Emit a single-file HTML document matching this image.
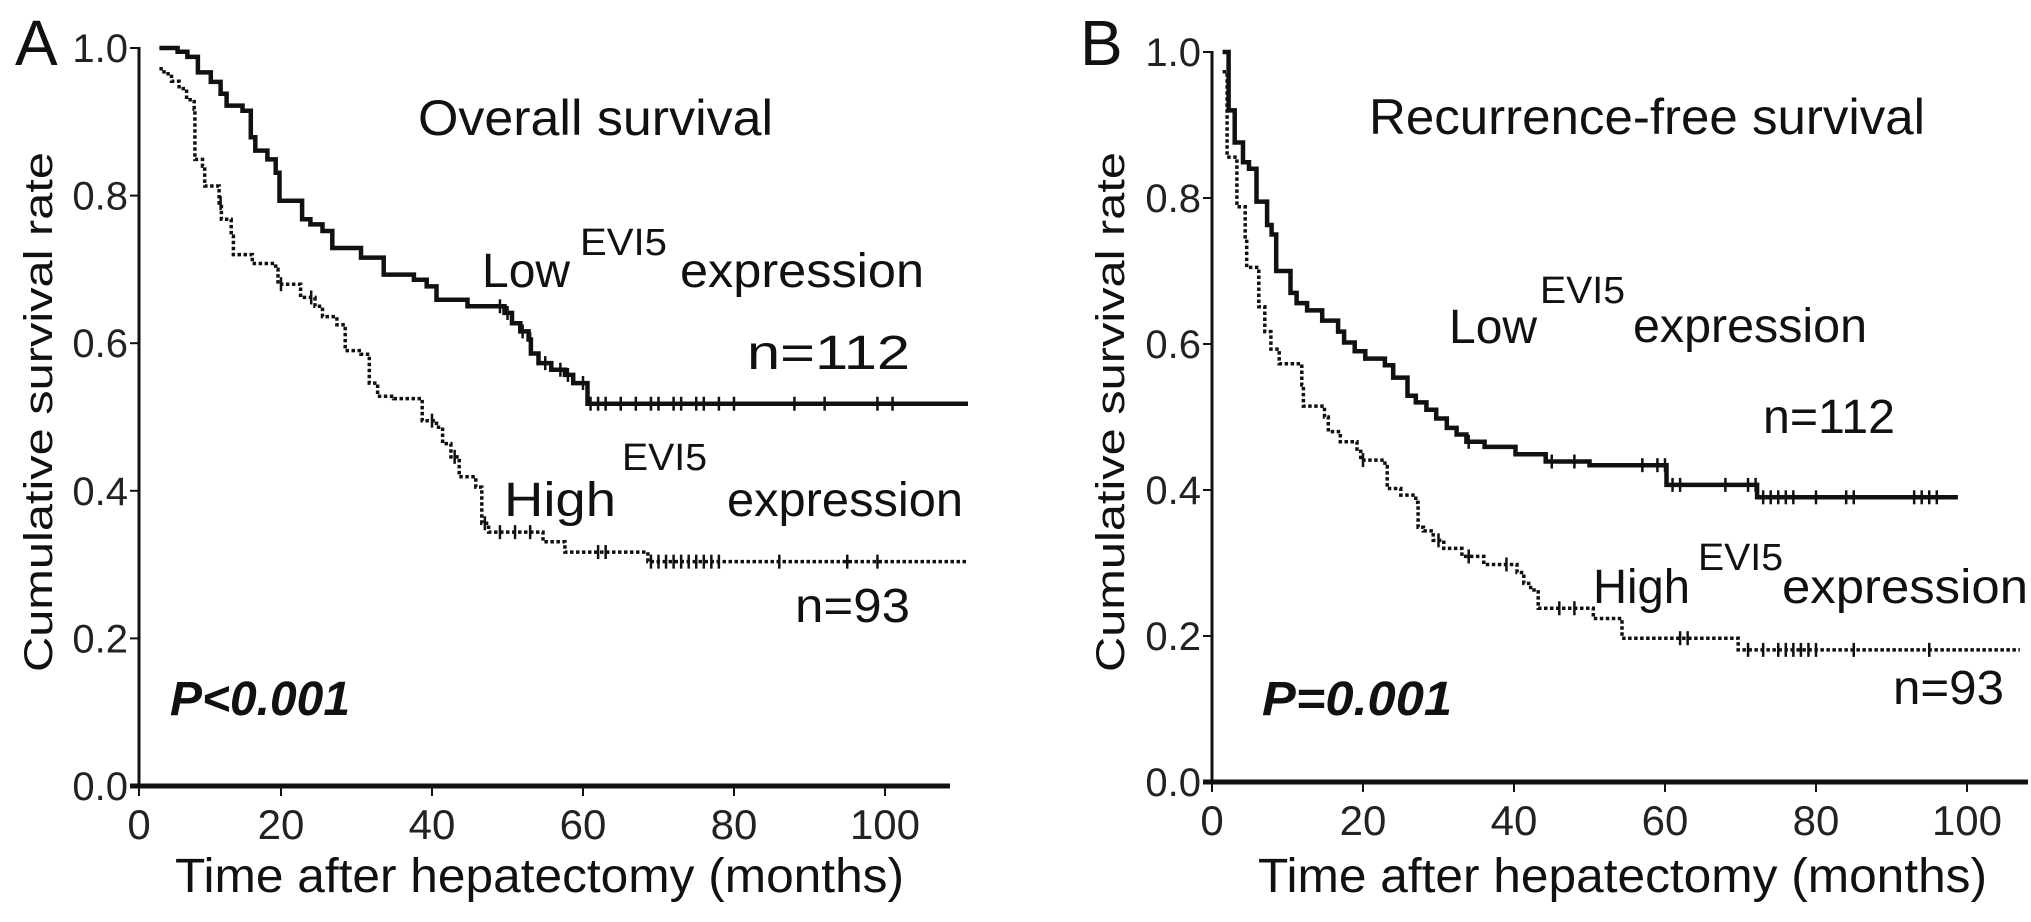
<!DOCTYPE html>
<html><head><meta charset="utf-8"><style>
html,body{margin:0;padding:0;background:#fff;}
svg{display:block;font-family:"Liberation Sans",Arial,sans-serif;}
</style></head><body>
<svg id="fig" width="2031" height="922" viewBox="0 0 2031 922" xmlns="http://www.w3.org/2000/svg">
<g id="panelA"></g>
<g id="panelB"></g>
</svg>
<script>
const xTicks=[0,20,40,60,80,100];
const yTicks=[0,0.2,0.4,0.6,0.8,1.0];
const yTickLabels=["0.0","0.2","0.4","0.6","0.8","1.0"];

const aLowTimes=[3.9,6.3,7.6,9.0,10.7,12.0,12.8,14.9,16.0,16.6,18.2,19.3,19.8,22.8,23.9,25.5,26.8,30.6,33.6,37.6,39.3,40.6,44.7,49.6,50.6,51.7,52.8,53.1,54.1,55.8,57.6,58.7,60.6];
const aLowSurv=[1.0,0.995,0.988,0.967,0.954,0.938,0.922,0.915,0.879,0.861,0.849,0.831,0.793,0.768,0.761,0.752,0.729,0.716,0.693,0.686,0.677,0.659,0.650,0.641,0.627,0.616,0.605,0.586,0.573,0.564,0.557,0.546,0.518];
const aLowEnd=111;
const aLowCensor=[49,50,52,53,55,57,58,60,61,62,63,65,67,69,70,72,73,75,76,78,80,88,92,99,101];

const aHighTimes=[3.9,4.5,5.5,6.5,7.5,8.5,8.6,9.6,9.9,11.8,12.1,13.4,13.7,16.2,19.3,19.6,22.6,24.5,25.5,27.4,28.5,30.6,31.7,32.8,34.9,38.7,40.6,41.4,42.5,43.6,45.8,46.6,47.5,54.7,57.6,68.6];
const aHighSurv=[0.972,0.965,0.955,0.945,0.930,0.917,0.849,0.840,0.813,0.790,0.768,0.745,0.720,0.708,0.700,0.680,0.662,0.650,0.636,0.625,0.590,0.585,0.546,0.528,0.525,0.495,0.486,0.464,0.446,0.419,0.405,0.356,0.344,0.331,0.317,0.304];
const aHighEnd=111;
const aHighCensor=[12,20,24,40,43,47,49,51,53,62,63,69,70,71,72,73,74,75,76,77,78,86,95,99];

const bLowTimes=[1.4,2.2,3.0,4.1,4.9,5.9,7.3,7.9,8.5,10.4,11.2,12.6,14.6,16.7,17.5,18.9,20.3,22.9,24.0,25.9,27.0,28.4,29.7,31.1,32.4,33.7,36.1,40.2,44.2,50.0,60.2,72.2];
const bLowSurv=[1.0,0.92,0.876,0.849,0.84,0.795,0.763,0.75,0.70,0.67,0.656,0.646,0.632,0.617,0.602,0.59,0.58,0.571,0.554,0.529,0.52,0.51,0.498,0.485,0.476,0.466,0.459,0.449,0.439,0.434,0.407,0.390];
const bLowEnd=98.8;
const bLowCensor=[34,45,48,57,59,60,61,62,68,71,72,73,74,75,76,77,80,84,85,93,94,95,96];

const bHighTimes=[1.4,2.0,3.3,4.4,4.6,6.2,7.0,7.8,8.9,11.9,12.1,14.9,15.4,17.0,19.2,19.7,22.9,23.2,25.0,27.0,27.3,28.0,29.3,30.7,33.1,36.0,40.4,41.3,42.2,43.2,50.5,54.3,69.7];
const bHighSurv=[0.973,0.856,0.788,0.744,0.705,0.651,0.617,0.593,0.573,0.544,0.515,0.50,0.48,0.466,0.456,0.441,0.432,0.402,0.393,0.383,0.349,0.344,0.331,0.32,0.309,0.298,0.287,0.272,0.263,0.238,0.224,0.197,0.181];
const bHighEnd=107;
const bHighCensor=[20,30,34,39,46,48,62,63,71,73,75,76,77,78,79,80,85,95];

const NS="http://www.w3.org/2000/svg";
function mk(parent,tag,attrs,text){const e=document.createElementNS(NS,tag);for(const k in attrs)e.setAttribute(k,attrs[k]);if(text!==undefined)e.textContent=text;parent.appendChild(e);return e;}

function stepAt(times,surv,t){let s=surv[0];for(let i=0;i<times.length;i++){if(times[i]<=t)s=surv[i];}return s;}

function drawPanel(g,cfg){
  const X=t=>cfg.x0+cfg.kx*t;
  const Y=s=>cfg.y0-cfg.ky*s;
  const ya=mk(g,'line',{x1:cfg.axX,y1:Y(1.0)-1,x2:cfg.axX,y2:cfg.y0,stroke:'#111','stroke-width':3});
  
  
  const xa=mk(g,'line',{x1:cfg.axX-9,y1:cfg.y0,x2:cfg.axEnd,y2:cfg.y0,stroke:'#111','stroke-width':5});
  
  
  yTicks.forEach((v,i)=>{
    const tk=mk(g,'line',{x1:cfg.axX-9,y1:Y(v),x2:cfg.axX,y2:Y(v),stroke:'#111','stroke-width':2});
    
    
    const tl=mk(g,'text',{x:cfg.axX-11,y:Y(v)+14,'font-size':40,'text-anchor':'end',fill:'#222'},yTickLabels[i]);
    
    
  });
  xTicks.forEach(v=>{
    const px=(v===0)?cfg.axX:X(v);
    const tk=mk(g,'line',{x1:px,y1:cfg.y0,x2:px,y2:cfg.y0+10,stroke:'#111','stroke-width':2});
    
    
    const tl=mk(g,'text',{x:px,y:cfg.y0+53,'font-size':42,'text-anchor':'middle',fill:'#222'},String(v));
    
    
  });
  cfg.series.forEach(sr=>{
    let d='M'+X(sr.times[0]).toFixed(1)+','+Y(sr.surv[0]).toFixed(1);
    for(let i=1;i<sr.times.length;i++){
      d+=' H'+X(sr.times[i]).toFixed(1)+' V'+Y(sr.surv[i]).toFixed(1);
    }
    d+=' H'+X(sr.end).toFixed(1);
    const p=mk(g,'path',{d:d,fill:'none',stroke:'#111','stroke-width':sr.dotted?3.5:4.5,'stroke-dasharray':sr.dotted?'3.5 2.5':'none'});
    
    
    sr.censor.forEach(t=>{
      const s=stepAt(sr.times,sr.surv,t);
      const c=mk(g,'line',{x1:X(t),y1:Y(s)-7,x2:X(t),y2:Y(s)+7,stroke:'#111','stroke-width':2.5});
      
      
    });
  });
}

const gA=document.getElementById('panelA');
const gB=document.getElementById('panelB');
drawPanel(gA,{x0:130,kx:7.55,axX:139,axEnd:950,y0:786,ky:738,series:[
  {name:'low-evi5-curve',times:aLowTimes,surv:aLowSurv,end:aLowEnd,censor:aLowCensor,dotted:false},
  {name:'high-evi5-curve',times:aHighTimes,surv:aHighSurv,end:aHighEnd,censor:aHighCensor,dotted:true}]});
drawPanel(gB,{x0:1212,kx:7.55,axX:1212,axEnd:2028,y0:782,ky:730,series:[
  {name:'low-evi5-curve',times:bLowTimes,surv:bLowSurv,end:bLowEnd,censor:bLowCensor,dotted:false},
  {name:'high-evi5-curve',times:bHighTimes,surv:bHighSurv,end:bHighEnd,censor:bHighCensor,dotted:true}]});
</script>
<svg style="position:absolute;left:0;top:0" width="2031" height="922" viewBox="0 0 2031 922" xmlns="http://www.w3.org/2000/svg" font-family="Liberation Sans, Arial, sans-serif" fill="#111">
<text x="15" y="65" font-size="64">A</text>
<text transform="translate(52,412) rotate(-90)" font-size="40" text-anchor="middle" textLength="520" lengthAdjust="spacingAndGlyphs">Cumulative survival rate</text>
<text x="418" y="135" font-size="50" textLength="355" lengthAdjust="spacingAndGlyphs">Overall survival</text>
<text x="482" y="287" font-size="48">Low</text>
<text x="580" y="255" font-size="38" textLength="87" lengthAdjust="spacingAndGlyphs">EVI5</text>
<text x="680" y="287" font-size="48" textLength="244" lengthAdjust="spacingAndGlyphs">expression</text>
<text x="747" y="369" font-size="48" textLength="163" lengthAdjust="spacingAndGlyphs">n=112</text>
<text x="504" y="516" font-size="48" textLength="112" lengthAdjust="spacingAndGlyphs">High</text>
<text x="622" y="470" font-size="38" textLength="85" lengthAdjust="spacingAndGlyphs">EVI5</text>
<text x="727" y="516" font-size="48" textLength="236" lengthAdjust="spacingAndGlyphs">expression</text>
<text x="795" y="622" font-size="48" textLength="115" lengthAdjust="spacingAndGlyphs">n=93</text>
<text x="170" y="715" font-size="48" font-weight="bold" font-style="italic" textLength="180" lengthAdjust="spacingAndGlyphs">P&lt;0.001</text>
<text x="175" y="892" font-size="48" textLength="729" lengthAdjust="spacingAndGlyphs">Time after hepatectomy (months)</text>

<text x="1080" y="65" font-size="64">B</text>
<text transform="translate(1124,412) rotate(-90)" font-size="40" text-anchor="middle" textLength="520" lengthAdjust="spacingAndGlyphs">Cumulative survival rate</text>
<text x="1369" y="134" font-size="50" textLength="556" lengthAdjust="spacingAndGlyphs">Recurrence-free survival</text>
<text x="1449" y="343" font-size="48">Low</text>
<text x="1540" y="303" font-size="38" textLength="85" lengthAdjust="spacingAndGlyphs">EVI5</text>
<text x="1633" y="342" font-size="48" textLength="234" lengthAdjust="spacingAndGlyphs">expression</text>
<text x="1763" y="433" font-size="48" textLength="132" lengthAdjust="spacingAndGlyphs">n=112</text>
<text x="1593" y="603" font-size="48" textLength="97" lengthAdjust="spacingAndGlyphs">High</text>
<text x="1698" y="570" font-size="38" textLength="85" lengthAdjust="spacingAndGlyphs">EVI5</text>
<text x="1782" y="603" font-size="48" textLength="246" lengthAdjust="spacingAndGlyphs">expression</text>
<text x="1893" y="704" font-size="48" textLength="111" lengthAdjust="spacingAndGlyphs">n=93</text>
<text x="1262" y="715" font-size="48" font-weight="bold" font-style="italic" textLength="190" lengthAdjust="spacingAndGlyphs">P=0.001</text>
<text x="1258" y="892" font-size="48" textLength="729" lengthAdjust="spacingAndGlyphs">Time after hepatectomy (months)</text>
</svg>
</body></html>
